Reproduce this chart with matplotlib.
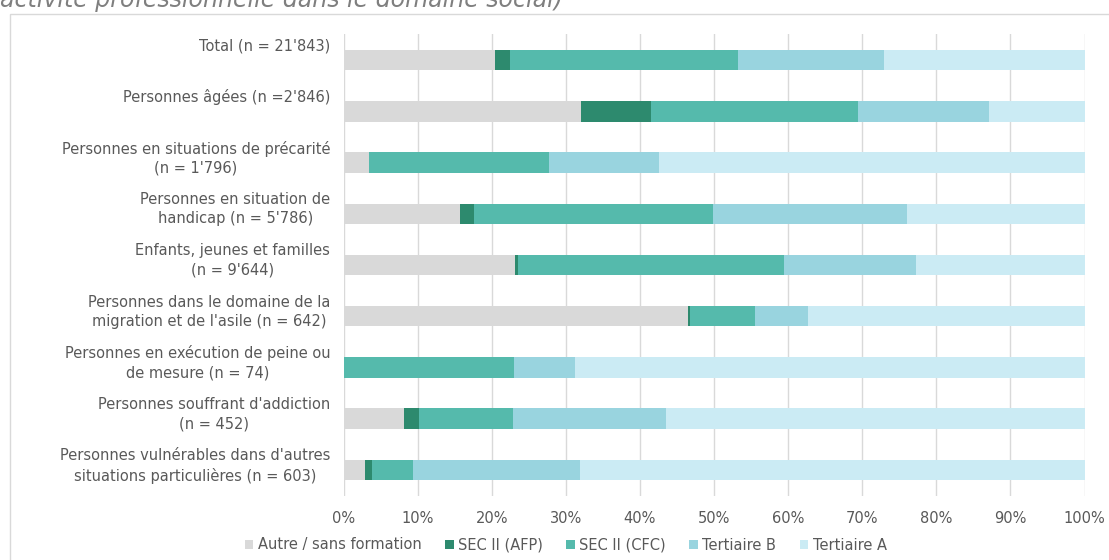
import matplotlib
matplotlib.use("Agg")
import matplotlib.pyplot as plt
from matplotlib.patches import Rectangle
from matplotlib.transforms import ScaledTranslation
import numpy as np

plt.rcParams['font.family'] = ['DejaVu Sans']

categories = [
    "Total (n = 21'843)\n ",
    "Personnes âgées (n =2'846)\n ",
    "Personnes en situations de précarité\n(n = 1'796)",
    "Personnes en situation de\nhandicap (n = 5'786)",
    "Enfants, jeunes et familles\n(n = 9'644)",
    "Personnes dans le domaine de la\nmigration et de l'asile (n = 642)",
    "Personnes en exécution de peine ou\nde mesure (n = 74)",
    "Personnes souffrant d'addiction\n(n = 452)",
    "Personnes vulnérables dans d'autres\nsituations particulières (n = 603)",
]

series_names = ["Autre / sans formation", "SEC II (AFP)", "SEC II (CFC)",
                "Tertiaire B", "Tertiaire A"]

autre = [20.4, 32.0, 3.5, 15.7, 23.2, 46.5, 0.0, 8.2, 2.9]
sec_afp = [2.1, 9.5, 0.0, 1.9, 0.4, 0.2, 0.0, 2.0, 1.0]
sec_cfc = [30.8, 28.0, 24.2, 32.3, 35.8, 8.8, 23.0, 12.7, 5.5]
tert_b = [19.6, 17.6, 14.9, 26.1, 17.9, 7.2, 8.2, 20.6, 22.5]
tert_a = [27.1, 12.9, 57.4, 24.0, 22.7, 37.3, 68.8, 56.5, 68.1]

colors = ["#D9D9D9", "#2D8A6E", "#55BAAC", "#99D4DF", "#CBEBF4"]
text_color = "#595959"

W, H = 1109, 560
fig = plt.figure(figsize=(W / 100, H / 100), dpi=100)

# outer chart frame
fig.patches.append(Rectangle((10 / W, -0.05), 1.2, 1 - 14 / H + 0.05,
                             transform=fig.transFigure, fill=False,
                             edgecolor="#D9D9D9", linewidth=1.0))

fig.text(0.0, 1 - 6.5 / H, "activité professionnelle dans le domaine social)",
         fontsize=17, style="italic", color="#7F7F7F", va="baseline", ha="left")

ax = fig.add_axes([343.5 / W, 1 - 495.6 / H, 741 / W, (495.6 - 34.4) / H])

y = np.arange(len(categories))
left = np.zeros(len(categories))
for vals, name, col in zip([autre, sec_afp, sec_cfc, tert_b, tert_a], series_names, colors):
    vals = np.array(vals)
    ax.barh(y, vals, left=left, height=0.4, color=col, label=name, zorder=3)
    left += vals

ax.set_xlim(0, 100)
ax.set_ylim(len(categories) - 0.5, -0.5)
ax.set_xticks(np.arange(0, 101, 10))
ax.set_xticklabels([f"{v}%" for v in range(0, 101, 10)])
ax.set_yticks(y)
ax.set_yticklabels(categories, multialignment="center", linespacing=1.35)
ax.grid(axis="x", color="#D9D9D9", linewidth=1.0, zorder=0)
for s in ax.spines.values():
    s.set_visible(False)
ax.tick_params(axis="both", length=0, colors=text_color, labelsize=10.5)
ax.tick_params(axis="x", pad=11)
ax.tick_params(axis="y", pad=9.5)

offset = ScaledTranslation(0, 8 / 100, fig.dpi_scale_trans)
for lab in ax.get_yticklabels():
    lab.set_transform(lab.get_transform() + offset)

leg = fig.legend(loc="center", bbox_to_anchor=(0.51, 1 - 545 / H), ncol=5,
                 frameon=False, fontsize=10.5, handlelength=0.6, handleheight=0.6,
                 handletextpad=0.3, columnspacing=1.6, labelcolor=text_color)

fig.savefig("out.png", dpi=100)
